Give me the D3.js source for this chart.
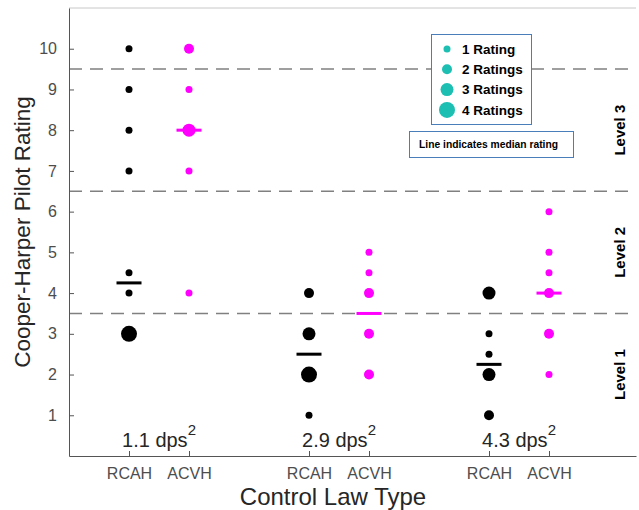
<!DOCTYPE html>
<html>
<head>
<meta charset="utf-8">
<script src="https://cdn.jsdelivr.net/npm/d3@7"></script>
<style>
  body { margin: 0; background: #fff; }
  svg { font-family: "Liberation Sans", Arial, sans-serif; }
</style>
</head>
<body>
<div id="container"></div>
<script>
/* DATA */
const conditions = ["1.1", "2.9", "4.3"]; // dps^2
const controlLaws = ["RCAH", "ACVH"];
// [rating, number of pilots giving it]
const rcah11 = [[10, 1], [9, 1], [8, 1], [7, 1], [4.5, 1], [4, 1], [3, 4]];
const acvh11 = [[10, 2], [9, 1], [8, 3], [7, 1], [4, 1]];
const rcah29 = [[4, 2], [3, 3], [2, 4], [1, 1]];
const acvh29 = [[5, 1], [4.5, 1], [4, 2], [3, 2], [2, 2]];
const rcah43 = [[4, 3], [3, 1], [2.5, 1], [2, 3], [1, 2]];
const acvh43 = [[6, 1], [5, 1], [4.5, 1], [4, 2], [3, 2], [2, 1]];
const yTicks = [1, 2, 3, 4, 5, 6, 7, 8, 9, 10];
const levelBounds = [0.5, 3.5, 6.5, 9.5];
const levelNames = ["Level 1", "Level 2", "Level 3"];
const legendCounts = [1, 2, 3, 4];

const ratingSets = [[rcah11, acvh11], [rcah29, acvh29], [rcah43, acvh43]];

/* CONSTANTS */
const W = 639, H = 510;
const plot = { left: 69, right: 636, top: 8, bottom: 456 };
const lawColor = { RCAH: "#000000", ACVH: "#ff00ff" };

// flatten into one list of series
const series = [];
ratingSets.forEach((pair, gi) => {
  pair.forEach((pts, li) => {
    const all = pts.flatMap(d => d3.range(d[1]).map(() => d[0]));
    series.push({
      cond: conditions[gi],
      law: controlLaws[li],
      pos: gi * 3 + li + 1,
      points: pts,
      median: d3.median(all)
    });
  });
});

/* SCALES */
const x = d3.scaleLinear().domain([0, 9.45]).range([plot.left, plot.right]);
const y = d3.scaleLinear().domain([0, 11]).range([plot.bottom, plot.top]);
const r = d3.scaleLinear().domain([1, 4]).range([3.5, 8]);

const svg = d3.select("#container")
  .append("svg")
  .attr("width", W)
  .attr("height", H);

// top border
svg.append("line")
  .attr("x1", plot.left).attr("x2", plot.right)
  .attr("y1", plot.top).attr("y2", plot.top)
  .attr("stroke", "#c8c8c8");

// level dashed lines
svg.selectAll("line.level")
  .data(levelBounds.slice(1))
  .join("line")
  .attr("class", "level")
  .attr("x1", plot.left).attr("x2", plot.right)
  .attr("y1", d => y(d)).attr("y2", d => y(d))
  .attr("stroke", "#808080")
  .attr("stroke-width", 1.5)
  .attr("stroke-dasharray", "13,8");

// y axis
const yAxis = svg.append("g")
  .attr("transform", `translate(${plot.left},0)`)
  .call(d3.axisLeft(y).tickValues(yTicks).tickSizeInner(-5).tickSizeOuter(0).tickPadding(12));
yAxis.select(".domain").attr("stroke", "#555");
yAxis.selectAll(".tick line").attr("stroke", "#555");
yAxis.selectAll(".tick text")
  .attr("fill", "#4d4d4d")
  .style("font-size", "16px")
  .style("font-family", "'Liberation Sans', Arial, sans-serif");

// x axis
const xAxis = svg.append("g")
  .attr("transform", `translate(0,${plot.bottom})`)
  .call(d3.axisBottom(x)
    .tickValues(series.map(d => d.pos))
    .tickFormat((d, i) => series[i].law)
    .tickSizeInner(-5).tickSizeOuter(0).tickPadding(12));
xAxis.select(".domain").attr("stroke", "#555");
xAxis.selectAll(".tick line").attr("stroke", "#555");
xAxis.selectAll(".tick text")
  .attr("fill", "#4d4d4d")
  .style("font-size", "16px")
  .style("font-family", "'Liberation Sans', Arial, sans-serif");

// axis titles
svg.append("text")
  .attr("transform", `translate(30,${(plot.top + plot.bottom) / 2}) rotate(-90)`)
  .attr("text-anchor", "middle")
  .attr("fill", "#262626")
  .style("font-size", "22.5px")
  .text("Cooper-Harper Pilot Rating");

svg.append("text")
  .attr("x", 333)
  .attr("y", 505)
  .attr("text-anchor", "middle")
  .attr("fill", "#262626")
  .style("font-size", "24px")
  .text("Control Law Type");

// condition labels
const condLabels = svg.selectAll("text.cond")
  .data(conditions)
  .join("text")
  .attr("class", "cond")
  .attr("x", (d, i) => x(i * 3 + 1.5))
  .attr("y", 447)
  .attr("text-anchor", "middle")
  .attr("fill", "#262626")
  .style("font-size", "20px");
condLabels.append("tspan").text(d => d + " dps");
condLabels.append("tspan")
  .attr("dy", -12)
  .style("font-size", "15px")
  .text("2");

// level labels
svg.selectAll("text.lvl")
  .data(levelNames)
  .join("text")
  .attr("class", "lvl")
  .attr("transform", (d, i) => `translate(625,${y((levelBounds[i] + levelBounds[i + 1]) / 2)}) rotate(-90)`)
  .attr("text-anchor", "middle")
  .style("font-size", "15px")
  .style("font-weight", "bold")
  .text(d => d);

// rating dots
const groups = svg.selectAll("g.series")
  .data(series)
  .join("g")
  .attr("class", "series");

groups.selectAll("circle")
  .data(d => d.points.map(p => ({ pos: d.pos, law: d.law, rating: p[0], n: p[1] })))
  .join("circle")
  .attr("cx", d => x(d.pos))
  .attr("cy", d => y(d.rating))
  .attr("r", d => r(d.n))
  .attr("fill", d => lawColor[d.law]);

// median lines
groups.append("line")
  .attr("x1", d => x(d.pos) - 12.5)
  .attr("x2", d => x(d.pos) + 12.5)
  .attr("y1", d => y(d.median))
  .attr("y2", d => y(d.median))
  .attr("stroke", d => lawColor[d.law])
  .attr("stroke-width", 3);

// legend
const legend = svg.append("g");
legend.append("rect")
  .attr("x", 431.5).attr("y", 34.5)
  .attr("width", 100).attr("height", 90)
  .attr("fill", "#fff")
  .attr("stroke", "#4a7ebb");
const li = legend.selectAll("g.item")
  .data(legendCounts)
  .join("g")
  .attr("class", "item")
  .attr("transform", (d, i) => `translate(447,${49 + i * 20.3})`);
li.append("circle")
  .attr("r", d => r(d))
  .attr("fill", "#1cbfb2");
li.append("text")
  .attr("x", 15)
  .attr("dy", "0.35em")
  .style("font-size", "13.5px")
  .style("font-weight", "bold")
  .text(d => d + (d === 1 ? " Rating" : " Ratings"));

// median note
svg.append("rect")
  .attr("x", 409.5).attr("y", 131.5)
  .attr("width", 164).attr("height", 26)
  .attr("fill", "#fff")
  .attr("stroke", "#4a7ebb");
svg.append("text")
  .attr("x", 419)
  .attr("y", 144.5)
  .attr("dy", "0.35em")
  .style("font-size", "10.3px")
  .style("font-weight", "bold")
  .text("Line indicates median rating");
</script>
</body>
</html>
